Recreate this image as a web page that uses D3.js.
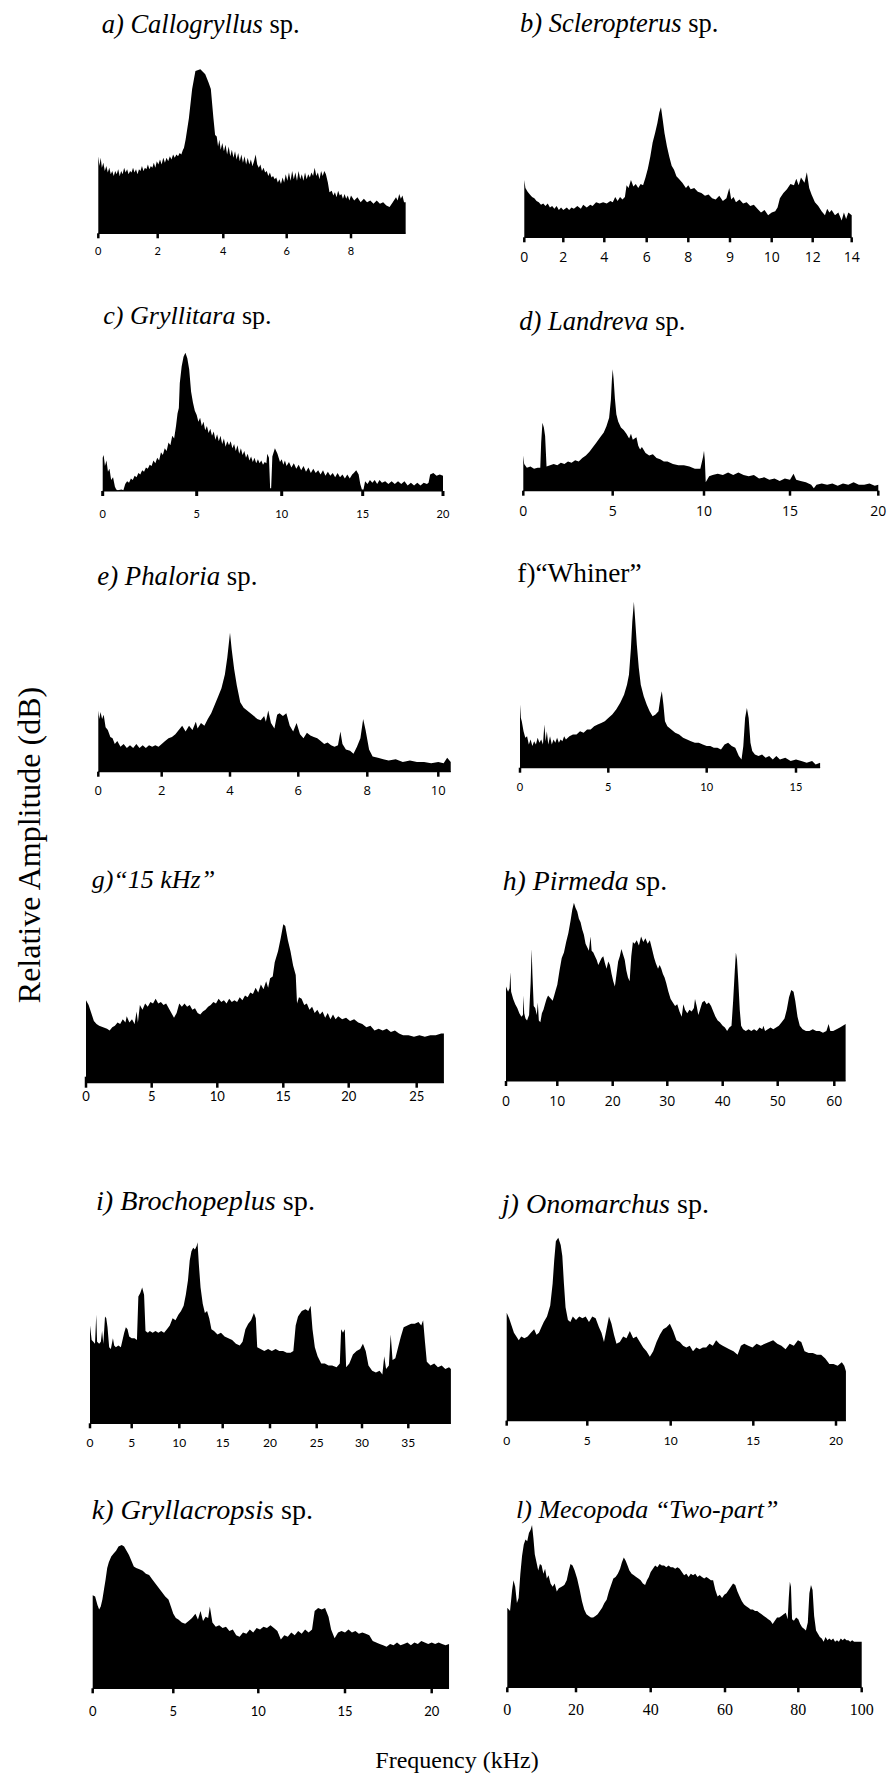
<!DOCTYPE html>
<html>
<head>
<meta charset="utf-8">
<script src="https://cdn.jsdelivr.net/npm/d3@7"></script>
<style>
  body { margin: 0; background: #fff; }
  svg { display: block; }
</style>
</head>
<body>
<div id="chart"></div>
<script>
// spectra: [frequency (kHz), relative amplitude 0-100]
var specA = [[0,47],[0.04,41],[0.08,46],[0.12,40],[0.17,43],[0.22,38],[0.27,41],[0.32,37],[0.37,40],[0.42,36],[0.47,38],[0.52,35],[0.57,38],[0.62,36],[0.67,39],[0.72,35],[0.77,38],[0.82,36],[0.87,40],[0.92,37],[0.97,39],[1.02,36],[1.07,38],[1.12,37],[1.17,40],[1.22,37],[1.27,39],[1.32,36],[1.37,39],[1.42,38],[1.47,41],[1.52,38],[1.57,40],[1.62,39],[1.67,42],[1.72,39],[1.77,41],[1.82,40],[1.87,43],[1.92,40],[1.97,44],[2.02,42],[2.07,45],[2.12,42],[2.17,46],[2.22,43],[2.27,46],[2.32,44],[2.37,47],[2.42,45],[2.47,48],[2.52,46],[2.57,48],[2.62,47],[2.67,49],[2.72,48],[2.77,51],[2.8,52],[2.85,57],[2.95,70],[3.05,88],[3.15,99],[3.3,100],[3.45,97],[3.55,92],[3.62,88],[3.7,70],[3.75,60],[3.8,59],[3.84,53],[3.88,57],[3.92,51],[3.97,55],[4.02,50],[4.07,54],[4.12,48],[4.17,53],[4.22,47],[4.27,51],[4.32,46],[4.37,50],[4.42,45],[4.47,49],[4.52,44],[4.57,48],[4.62,43],[4.67,47],[4.72,42],[4.77,46],[4.82,42],[4.87,45],[4.92,41],[4.97,44],[5.02,48],[5.07,42],[5.12,40],[5.17,42],[5.22,38],[5.27,40],[5.32,37],[5.37,38],[5.42,35],[5.47,37],[5.52,34],[5.57,35],[5.62,33],[5.67,34],[5.72,31],[5.77,33],[5.82,30],[5.87,34],[5.92,31],[5.97,36],[6.02,32],[6.07,37],[6.12,32],[6.17,38],[6.22,33],[6.27,37],[6.32,32],[6.37,38],[6.42,33],[6.47,36],[6.52,32],[6.57,37],[6.62,33],[6.67,36],[6.72,34],[6.77,37],[6.82,35],[6.87,40],[6.92,35],[6.97,37],[7.02,33],[7.07,38],[7.12,35],[7.17,38],[7.22,36],[7.28,31],[7.33,25],[7.4,26],[7.45,23],[7.5,25],[7.55,22],[7.6,26],[7.65,23],[7.7,24],[7.75,21],[7.8,24],[7.85,21],[7.9,23],[7.95,20],[8.0,23],[8.1,20],[8.2,22],[8.3,19],[8.4,21],[8.5,19],[8.6,20],[8.7,18],[8.8,20],[8.9,18],[9.0,19],[9.1,17],[9.2,16],[9.3,19],[9.4,22],[9.45,20],[9.5,24],[9.55,21],[9.6,23],[9.65,19],[9.7,19]];

var specB = [[0,44],[0.05,38],[0.15,35],[0.25,33],[0.35,31],[0.45,30],[0.55,28],[0.65,27],[0.75,25],[0.85,26],[0.95,24],[1.05,26],[1.15,23],[1.25,24],[1.35,22],[1.45,24],[1.55,21],[1.65,23],[1.75,21],[1.9,23],[2.0,21],[2.1,23],[2.2,22],[2.35,24],[2.5,22],[2.6,25],[2.75,23],[2.9,25],[3.0,24],[3.15,27],[3.3,26],[3.45,27],[3.6,26],[3.75,28],[3.85,27],[3.95,31],[4.05,28],[4.15,31],[4.25,29],[4.35,31],[4.42,40],[4.5,38],[4.6,44],[4.7,39],[4.8,41],[4.9,38],[5.0,41],[5.1,40],[5.2,46],[5.3,53],[5.4,62],[5.5,73],[5.6,80],[5.7,88],[5.78,96],[5.85,100],[5.92,91],[6.0,80],[6.1,70],[6.2,62],[6.3,55],[6.4,52],[6.5,47],[6.6,45],[6.75,42],[6.9,38],[7.0,40],[7.1,37],[7.25,38],[7.4,35],[7.55,34],[7.7,32],[7.85,33],[8.0,30],[8.15,29],[8.3,32],[8.45,28],[8.6,30],[8.72,38],[8.8,29],[8.9,31],[9.0,27],[9.15,29],[9.3,26],[9.45,27],[9.6,24],[9.75,25],[9.9,22],[10.05,19],[10.2,21],[10.35,17],[10.5,19],[10.65,20],[10.75,23],[10.85,30],[11.0,34],[11.15,37],[11.3,41],[11.45,40],[11.55,45],[11.65,40],[11.75,46],[11.9,42],[12.0,50],[12.1,38],[12.2,33],[12.35,27],[12.5,24],[12.65,20],[12.8,17],[12.9,22],[13.0,19],[13.1,21],[13.25,17],[13.4,19],[13.55,13],[13.65,19],[13.75,14],[13.85,19],[14.0,17]];

var specC = [[0,24],[0.05,26],[0.12,18],[0.2,22],[0.28,14],[0.36,16],[0.45,8],[0.55,10],[0.65,3],[0.72,1],[0.8,0.5],[1.0,1],[1.1,0.5],[1.2,5],[1.3,7],[1.4,6],[1.5,9],[1.6,8],[1.7,11],[1.8,10],[1.9,13],[2.0,12],[2.1,15],[2.2,14],[2.3,17],[2.4,16],[2.5,19],[2.6,18],[2.7,22],[2.8,20],[2.9,24],[3.0,22],[3.1,28],[3.2,26],[3.3,31],[3.4,29],[3.5,35],[3.6,33],[3.7,40],[3.8,38],[3.9,47],[3.98,56],[4.05,60],[4.1,78],[4.2,90],[4.3,97],[4.4,100],[4.5,96],[4.6,88],[4.7,72],[4.8,64],[4.9,58],[5.0,55],[5.1,50],[5.2,53],[5.3,47],[5.4,50],[5.5,44],[5.6,47],[5.7,42],[5.8,45],[5.9,40],[6.0,43],[6.1,37],[6.2,41],[6.3,36],[6.4,40],[6.5,34],[6.6,38],[6.7,32],[6.8,36],[6.9,33],[7.0,36],[7.1,31],[7.2,34],[7.3,29],[7.4,33],[7.5,27],[7.6,31],[7.7,26],[7.8,29],[7.9,24],[8.0,27],[8.1,22],[8.2,25],[8.3,21],[8.4,24],[8.5,20],[8.6,23],[8.7,20],[8.8,22],[8.9,19],[9.0,21],[9.1,20],[9.15,27],[9.25,24],[9.32,2],[9.38,2],[9.45,25],[9.6,31],[9.75,27],[9.9,21],[10.0,23],[10.1,19],[10.2,22],[10.3,18],[10.45,21],[10.6,17],[10.75,20],[10.9,16],[11.05,19],[11.2,15],[11.35,18],[11.5,14],[11.65,17],[11.8,13],[11.95,16],[12.1,13],[12.25,15],[12.4,12],[12.55,15],[12.7,11],[12.85,14],[13.0,11],[13.15,13],[13.3,10],[13.45,13],[13.6,10],[13.75,12],[13.9,9],[14.05,12],[14.2,9],[14.35,12],[14.45,13],[14.6,15],[14.75,12],[14.85,5],[14.95,1],[15.05,1],[15.15,7],[15.3,5],[15.45,8],[15.6,6],[15.75,8],[15.9,5],[16.05,8],[16.2,6],[16.4,7],[16.6,5],[16.8,7],[17.0,5],[17.2,7],[17.4,5],[17.6,7],[17.8,4],[18.0,6],[18.2,4],[18.4,6],[18.6,4],[18.8,6],[19.0,5],[19.1,6],[19.2,12],[19.4,13],[19.6,11],[19.8,12],[20.0,11]];

var specD = [[0,29],[0.05,22],[0.2,19],[0.4,20],[0.6,18],[0.8,19],[0.95,19],[1.0,40],[1.07,56],[1.15,52],[1.22,45],[1.3,20],[1.5,21],[1.7,22],[1.9,21],[2.1,23],[2.3,22],[2.5,24],[2.7,23],[2.9,25],[3.1,24],[3.3,27],[3.5,29],[3.7,32],[3.9,36],[4.1,40],[4.3,44],[4.5,48],[4.65,53],[4.8,60],[4.9,75],[4.95,90],[5.0,100],[5.05,92],[5.12,76],[5.2,63],[5.3,57],[5.45,52],[5.6,50],[5.75,47],[5.9,43],[6.0,47],[6.1,42],[6.3,44],[6.4,37],[6.5,34],[6.6,36],[6.8,31],[7.0,29],[7.2,30],[7.4,27],[7.6,26],[7.8,24],[8.0,24],[8.3,22],[8.6,21],[8.9,21],[9.2,20],[9.5,18],[9.8,18],[9.95,28],[10.0,33],[10.05,25],[10.1,7],[10.3,12],[10.5,13],[10.8,14],[11.1,13],[11.4,15],[11.7,13],[12.0,15],[12.3,13],[12.6,12],[12.9,13],[13.2,10],[13.5,11],[13.8,9],[14.1,10],[14.4,8],[14.7,10],[15.0,9],[15.2,14],[15.35,9],[15.6,8],[15.9,7],[16.2,5],[16.35,2],[16.5,5],[16.8,6],[17.1,5],[17.4,6],[17.7,4],[18.0,6],[18.3,5],[18.6,7],[18.9,5],[19.2,5],[19.5,6],[19.8,4],[20.0,5]];

var specE = [[0,44],[0.03,38],[0.07,43],[0.12,38],[0.17,41],[0.23,32],[0.3,30],[0.38,25],[0.45,24],[0.52,20],[0.6,22],[0.7,18],[0.8,20],[0.9,17],[1.0,19],[1.1,17],[1.2,20],[1.3,17],[1.4,19],[1.5,17],[1.6,19],[1.7,18],[1.8,19],[1.9,18],[2.0,20],[2.1,22],[2.2,24],[2.3,25],[2.4,27],[2.5,30],[2.6,33],[2.7,29],[2.8,33],[2.9,30],[3.0,36],[3.05,31],[3.15,35],[3.25,33],[3.35,38],[3.45,42],[3.55,48],[3.65,54],[3.75,60],[3.85,70],[3.92,82],[4.0,100],[4.05,88],[4.12,74],[4.2,62],[4.3,50],[4.4,46],[4.5,44],[4.6,42],[4.7,40],[4.8,38],[4.9,37],[5.0,40],[5.05,36],[5.12,44],[5.2,35],[5.3,31],[5.38,41],[5.45,42],[5.55,40],[5.65,42],[5.75,33],[5.85,29],[5.95,35],[6.05,27],[6.15,24],[6.25,28],[6.35,26],[6.45,25],[6.55,24],[6.65,22],[6.75,20],[6.85,21],[6.95,19],[7.05,18],[7.15,19],[7.22,29],[7.28,20],[7.38,16],[7.5,15],[7.6,13],[7.7,18],[7.8,24],[7.88,38],[7.95,30],[8.05,16],[8.15,11],[8.3,10],[8.45,9],[8.6,8],[8.8,9],[9.0,7],[9.2,8],[9.4,7],[9.6,7],[9.8,6],[10.0,7],[10.15,6],[10.25,10],[10.35,7]];

var specF = [[0,38],[0.05,30],[0.1,28],[0.2,22],[0.3,18],[0.4,19],[0.5,14],[0.6,17],[0.7,13],[0.8,16],[0.9,14],[1.0,18],[1.1,15],[1.2,17],[1.3,14],[1.38,26],[1.45,16],[1.52,22],[1.6,14],[1.7,19],[1.8,14],[1.9,17],[2.0,15],[2.1,18],[2.2,15],[2.3,17],[2.4,16],[2.5,19],[2.6,17],[2.8,19],[3.0,20],[3.2,20],[3.4,22],[3.6,21],[3.8,23],[4.0,23],[4.2,25],[4.4,26],[4.6,27],[4.8,28],[5.0,30],[5.2,32],[5.4,35],[5.6,39],[5.8,44],[5.95,50],[6.05,56],[6.15,72],[6.22,88],[6.3,100],[6.36,90],[6.45,74],[6.55,60],[6.65,50],[6.8,43],[6.95,38],[7.1,34],[7.25,31],[7.4,32],[7.55,34],[7.65,42],[7.72,46],[7.8,38],[7.88,28],[8.0,25],[8.2,23],[8.4,21],[8.6,20],[8.8,18],[9.0,17],[9.2,16],[9.4,15],[9.6,15],[9.8,14],[10.0,13],[10.2,13],[10.4,12],[10.6,12],[10.8,11],[11.0,14],[11.2,15],[11.4,13],[11.6,12],[11.8,7],[11.95,5],[12.05,13],[12.15,30],[12.25,36],[12.35,30],[12.45,15],[12.55,10],[12.7,8],[12.9,7],[13.1,8],[13.3,6],[13.5,7],[13.7,5],[13.9,7],[14.1,5],[14.4,6],[14.7,4],[15.0,5],[15.3,4],[15.6,3],[15.9,4],[16.1,2],[16.35,3]];

var specG = [[0,52],[0.2,49],[0.4,44],[0.6,39],[0.8,37],[1.0,36],[1.3,35],[1.6,34],[1.8,33],[2.0,35],[2.2,36],[2.4,38],[2.6,37],[2.8,40],[3.0,38],[3.1,42],[3.3,38],[3.5,40],[3.7,37],[3.85,45],[3.95,38],[4.1,49],[4.3,46],[4.5,50],[4.7,48],[4.9,51],[5.1,50],[5.3,53],[5.5,50],[5.7,51],[5.9,49],[6.1,50],[6.3,47],[6.5,44],[6.7,41],[6.9,44],[7.1,50],[7.3,48],[7.5,50],[7.7,48],[7.9,49],[8.1,46],[8.3,47],[8.5,44],[8.7,43],[8.9,45],[9.1,46],[9.3,48],[9.5,49],[9.7,51],[9.9,50],[10.1,53],[10.3,51],[10.5,52],[10.7,50],[10.9,53],[11.1,51],[11.3,52],[11.5,51],[11.7,54],[11.9,52],[12.1,55],[12.3,54],[12.5,57],[12.7,56],[12.9,60],[13.1,57],[13.3,62],[13.5,59],[13.7,64],[13.85,60],[14.0,66],[14.2,67],[14.35,76],[14.6,83],[14.8,91],[15.0,100],[15.15,99],[15.35,90],[15.55,83],[15.75,74],[15.95,68],[16.05,50],[16.2,54],[16.4,53],[16.6,49],[16.8,50],[17.0,46],[17.2,48],[17.4,44],[17.6,46],[17.8,43],[18.0,45],[18.2,41],[18.4,44],[18.6,40],[18.8,43],[19.0,40],[19.2,42],[19.5,40],[19.8,41],[20.1,39],[20.4,40],[20.7,38],[21.0,37],[21.3,35],[21.6,36],[21.9,33],[22.2,34],[22.5,33],[22.8,34],[23.1,32],[23.4,33],[23.7,31],[24.0,30],[24.4,30],[24.8,29],[25.2,30],[25.6,29],[26.0,30],[26.4,30],[26.8,31],[27.0,31]];

var specH = [[0,53],[0.4,50],[0.7,52],[0.85,61],[1.0,50],[1.4,46],[1.8,43],[2.2,41],[2.6,38],[3.0,36],[3.3,37],[3.4,48],[3.55,38],[3.8,35],[4.1,34],[4.5,37],[4.8,55],[5.0,74],[5.15,60],[5.4,42],[5.7,41],[6.0,37],[6.2,44],[6.4,34],[6.7,33],[7.0,38],[7.3,40],[7.6,43],[7.9,46],[8.2,48],[8.5,47],[8.8,46],[9.1,45],[9.4,48],[9.7,51],[10.0,54],[10.4,62],[10.8,69],[11.2,72],[11.6,78],[12.0,83],[12.4,90],[12.7,96],[13.0,100],[13.3,97],[13.6,95],[13.9,91],[14.2,89],[14.5,85],[14.8,82],[15.1,77],[15.4,75],[15.7,73],[16.0,81],[16.2,73],[16.5,72],[16.8,70],[17.1,68],[17.4,65],[17.7,67],[18.0,69],[18.3,70],[18.6,66],[18.9,63],[19.2,67],[19.5,65],[19.8,60],[20.1,56],[20.4,53],[20.7,60],[21.0,67],[21.3,70],[21.6,74],[21.9,71],[22.2,68],[22.5,62],[22.8,58],[23.1,56],[23.4,70],[23.7,78],[24.0,77],[24.4,79],[24.8,76],[25.2,81],[25.6,78],[26.0,80],[26.4,77],[26.8,79],[27.2,74],[27.6,69],[27.9,66],[28.3,63],[28.6,65],[28.9,63],[29.2,60],[29.5,58],[29.8,55],[30.2,50],[30.6,46],[31.0,44],[31.4,42],[31.8,43],[32.2,39],[32.6,36],[32.9,43],[33.2,40],[33.6,38],[34.0,40],[34.4,39],[34.8,41],[35.0,46],[35.3,42],[35.6,37],[35.9,40],[36.3,44],[36.7,45],[37.1,43],[37.5,44],[37.9,42],[38.3,39],[38.7,36],[39.1,34],[39.5,33],[40.0,31],[40.4,30],[40.8,28],[41.2,30],[41.6,31],[41.9,45],[42.2,62],[42.4,72],[42.6,68],[42.85,55],[43.1,40],[43.35,31],[43.7,29],[44.2,28],[44.7,29],[45.2,28],[45.7,29],[46.2,28],[46.7,30],[47.2,29],[47.4,31],[47.7,28],[48.2,29],[48.7,30],[49.2,29],[49.7,30],[50.2,31],[50.7,33],[51.2,35],[51.6,40],[52.0,47],[52.4,51],[52.8,50],[53.1,45],[53.5,36],[53.9,31],[54.4,29],[55.0,28],[55.6,28],[56.2,29],[56.8,28],[57.4,28],[58.0,27],[58.6,28],[59.0,32],[59.3,28],[59.8,28],[60.4,29],[61.0,30],[61.5,31],[62.0,32]];

var specI = [[0,54],[0.2,46],[0.4,45],[0.6,44],[0.75,60],[0.85,45],[1.1,44],[1.3,45],[1.45,51],[1.6,44],[1.8,59],[1.95,58],[2.1,53],[2.3,42],[2.5,41],[2.75,47],[2.9,43],[3.1,42],[3.4,43],[3.7,42],[3.9,46],[4.1,50],[4.3,53],[4.5,52],[4.7,48],[5.0,47],[5.3,47],[5.55,46],[5.7,70],[5.9,72],[6.1,75],[6.3,71],[6.45,51],[6.7,50],[6.9,51],[7.2,50],[7.5,51],[7.8,50],[8.1,51],[8.4,50],[8.7,52],[9.0,54],[9.3,58],[9.6,57],[9.9,60],[10.2,62],[10.5,65],[10.75,71],[11.0,79],[11.2,90],[11.4,95],[11.6,97],[11.8,96],[12.0,98],[12.1,100],[12.25,88],[12.45,75],[12.7,66],[12.95,61],[13.2,62],[13.45,58],[13.7,52],[14.0,51],[14.4,49],[14.8,50],[15.2,48],[15.6,47],[16.0,46],[16.4,44],[16.8,43],[17.1,45],[17.4,52],[17.7,55],[18.0,57],[18.3,61],[18.5,58],[18.65,42],[19.0,41],[19.4,40],[19.8,41],[20.2,40],[20.6,41],[21.0,40],[21.4,40],[21.8,39],[22.2,39],[22.5,40],[22.75,54],[23.0,59],[23.4,62],[23.8,63],[24.1,62],[24.35,65],[24.55,52],[24.8,42],[25.1,37],[25.5,33],[25.9,33],[26.3,32],[26.7,32],[27.2,31],[27.55,33],[27.7,52],[27.9,50],[28.1,52],[28.25,31],[28.6,33],[29.0,38],[29.4,40],[29.8,41],[30.1,44],[30.4,40],[30.7,32],[31.1,29],[31.5,28],[31.9,29],[32.2,27],[32.4,37],[32.6,30],[32.9,32],[33.1,49],[33.3,35],[33.6,36],[33.9,42],[34.2,48],[34.5,53],[34.9,54],[35.3,55],[35.7,55],[36.1,56],[36.4,54],[36.6,57],[36.8,45],[37.0,34],[37.4,32],[37.8,33],[38.2,31],[38.6,32],[39.0,30],[39.4,31],[39.6,30]];

var specJ = [[0,59],[0.15,56],[0.3,52],[0.45,48],[0.6,46],[0.75,44],[0.9,46],[1.1,45],[1.3,46],[1.5,48],[1.7,50],[1.85,47],[2.0,48],[2.15,51],[2.3,54],[2.5,57],[2.7,63],[2.85,75],[2.95,88],[3.05,98],[3.2,100],[3.35,96],[3.45,90],[3.55,75],[3.65,62],[3.8,55],[3.95,54],[4.1,57],[4.3,55],[4.5,57],[4.7,56],[4.9,57],[5.1,54],[5.3,57],[5.5,56],[5.7,51],[5.85,48],[6.0,43],[6.15,50],[6.3,57],[6.45,53],[6.6,47],[6.75,42],[6.95,43],[7.15,46],[7.35,45],[7.55,49],[7.75,45],[7.95,46],[8.15,43],[8.35,40],[8.55,38],[8.75,35],[8.95,38],[9.15,43],[9.35,47],[9.55,50],[9.75,51],[9.95,53],[10.15,49],[10.35,44],[10.55,43],[10.75,41],[10.95,40],[11.15,41],[11.35,38],[11.55,40],[11.75,39],[11.95,40],[12.15,40],[12.35,42],[12.55,41],[12.75,44],[12.95,42],[13.15,41],[13.35,40],[13.55,39],[13.8,38],[14.05,36],[14.25,41],[14.45,42],[14.7,41],[14.95,40],[15.2,42],[15.45,41],[15.7,42],[15.95,43],[16.2,44],[16.45,42],[16.7,41],[16.95,39],[17.2,42],[17.45,41],[17.7,44],[17.9,43],[18.1,38],[18.35,37],[18.6,37],[18.85,36],[19.1,36],[19.35,34],[19.6,31],[19.85,31],[20.1,30],[20.35,32],[20.5,30],[20.6,27]];

var specK = [[0,65],[0.15,64],[0.3,58],[0.4,55],[0.5,57],[0.6,62],[0.7,69],[0.8,76],[0.9,84],[1.0,88],[1.15,92],[1.3,94],[1.45,96],[1.6,99],[1.8,100],[1.95,99],[2.1,96],[2.25,93],[2.4,89],[2.55,85],[2.7,84],[2.9,83],[3.1,82],[3.3,80],[3.5,79],[3.7,76],[3.9,73],[4.1,70],[4.3,67],[4.5,64],[4.7,62],[4.85,57],[5.0,52],[5.15,49],[5.3,48],[5.5,46],[5.7,45],[5.9,47],[6.1,49],[6.3,52],[6.45,48],[6.6,54],[6.75,47],[6.9,50],[7.05,49],[7.15,57],[7.3,46],[7.5,43],[7.7,44],[7.9,42],[8.1,43],[8.3,40],[8.5,41],[8.7,37],[8.9,36],[9.1,39],[9.3,38],[9.5,41],[9.7,39],[9.9,42],[10.1,41],[10.3,43],[10.5,42],[10.7,44],[10.9,42],[11.1,40],[11.3,34],[11.5,37],[11.7,36],[11.9,39],[12.1,37],[12.3,40],[12.5,38],[12.7,41],[12.9,39],[13.1,41],[13.25,54],[13.45,56],[13.65,55],[13.85,56],[14.05,50],[14.2,41],[14.4,35],[14.6,39],[14.8,40],[15.0,39],[15.2,41],[15.4,39],[15.6,40],[15.8,38],[16.0,39],[16.2,38],[16.4,37],[16.6,33],[16.8,32],[17.0,31],[17.2,30],[17.4,29],[17.6,31],[17.8,30],[18.0,32],[18.2,30],[18.4,31],[18.6,32],[18.8,30],[19.0,32],[19.2,31],[19.4,33],[19.6,32],[19.8,31],[20.0,32],[20.2,31],[20.4,32],[20.6,31],[20.8,30],[21.0,31]];

var specL = [[0,49],[0.8,47],[1.4,60],[1.8,66],[2.3,62],[2.8,52],[3.3,55],[3.8,70],[4.3,81],[4.8,88],[5.3,91],[5.8,90],[6.3,95],[6.8,97],[7.2,100],[7.6,92],[8.0,82],[8.5,77],[9.0,72],[9.5,76],[10.0,75],[10.5,70],[11.0,73],[11.5,67],[12.0,69],[12.6,64],[13.2,62],[13.8,64],[14.4,59],[15.0,61],[15.8,62],[16.6,63],[17.3,66],[17.9,72],[18.4,76],[19.0,75],[19.6,72],[20.3,67],[21.0,60],[21.6,53],[22.2,48],[22.8,45],[23.4,44],[24.0,43],[24.6,43],[25.2,44],[25.8,45],[26.4,47],[27.0,49],[27.6,52],[28.2,54],[28.8,59],[29.4,63],[30.0,67],[30.6,68],[31.2,70],[31.8,73],[32.3,77],[32.8,80],[33.3,78],[33.8,75],[34.3,72],[34.9,70],[35.5,69],[36.1,68],[36.7,67],[37.3,66],[37.9,64],[38.5,63],[39.0,66],[39.5,68],[40.0,71],[40.6,73],[41.2,75],[41.8,74],[42.4,76],[43.0,75],[43.6,75],[44.2,74],[44.8,75],[45.4,74],[46.0,74],[46.6,73],[47.2,74],[47.8,73],[48.4,71],[49.0,69],[49.6,70],[50.2,68],[50.8,70],[51.4,69],[52.0,70],[52.6,68],[53.2,69],[53.8,68],[54.4,67],[55.0,68],[55.6,67],[56.2,66],[56.8,66],[57.4,60],[58.0,56],[58.6,57],[59.2,55],[59.8,57],[60.4,58],[61.0,60],[61.6,62],[62.2,64],[62.8,63],[63.4,59],[64.0,56],[64.6,53],[65.2,51],[65.8,50],[66.4,49],[67.0,48],[67.6,48],[68.2,47],[68.8,47],[69.4,46],[70.0,45],[70.6,44],[71.2,43],[71.8,42],[72.4,41],[73.0,39],[73.6,41],[74.2,43],[74.8,43],[75.4,44],[76.0,45],[76.6,46],[77.1,42],[77.4,55],[77.7,65],[78.0,62],[78.3,42],[78.8,41],[79.4,43],[80.0,42],[80.6,39],[81.2,37],[81.8,36],[82.4,35],[83.0,40],[83.5,58],[84.0,63],[84.5,60],[85.0,44],[85.6,35],[86.2,33],[86.8,31],[87.4,30],[88.0,28],[88.6,31],[89.2,29],[89.8,30],[90.4,29],[91.0,30],[91.6,28],[92.2,29],[92.8,28],[93.4,30],[94.0,29],[94.6,30],[95.2,29],[95.8,29],[96.4,28],[97.0,29],[97.6,28],[98.2,28],[98.8,28],[99.4,28],[100,28]];

// tick values (kHz) and the labels printed under them
var ticksA = [0, 2, 4, 6, 8];
var ticksB = [0, 1.75, 3.5, 5.25, 7, 8.75, 10.5, 12.25, 14];
var labelsB = ["0", "2", "4", "6", "8", "9", "10", "12", "14"];
var ticksC = [0, 5, 10, 15, 20];
var ticksD = [0, 5, 10, 15, 20];
var ticksE = [0, 2, 4, 6, 8, 10];
var ticksF = [0, 5, 10, 15];
var ticksG = [0, 5, 10, 15, 20, 25];
var ticksH = [0, 10, 20, 30, 40, 50, 60];
var ticksI = [0, 5, 10, 15, 20, 25, 30, 35];
var ticksJ = [0, 5, 10, 15, 20];
var ticksK = [0, 5, 10, 15, 20];
var ticksL = [0, 20, 40, 60, 80, 100];

// panel titles: [text, italic?]
var titleA = [["a) ", true], ["Callogryllus", true], [" sp.", false]];
var titleB = [["b) ", true], ["Scleropterus", true], [" sp.", false]];
var titleC = [["c) ", true], ["Gryllitara", true], [" sp.", false]];
var titleD = [["d) ", true], ["Landreva", true], [" sp.", false]];
var titleE = [["e) ", true], ["Phaloria", true], [" sp.", false]];
var titleF = [["f)\u201CWhiner\u201D", false]];
var titleG = [["g)\u201C15 kHz\u201D", true]];
var titleH = [["h) ", true], ["Pirmeda", true], [" sp.", false]];
var titleI = [["i) ", true], ["Brochopeplus", true], [" sp.", false]];
var titleJ = [["j) ", true], ["Onomarchus", true], [" sp.", false]];
var titleK = [["k) ", true], ["Gryllacropsis", true], [" sp.", false]];
var titleL = [["l) ", true], ["Mecopoda", true], [" \u201CTwo-part\u201D", true]];

var svgWidth = 896;
var svgHeight = 1776;

var svg = d3.select("#chart")
    .append("svg")
    .attr("width", svgWidth)
    .attr("height", svgHeight);

var SANS = "Lato, 'Open Sans', sans-serif";
var OPEN = "'Open Sans', sans-serif";
var SERIF = "'Liberation Serif', 'Times New Roman', serif";

// layout of each panel (pixel positions of the ticks, baseline, peak height)
var panels = [
    {data: specA, ticks: ticksA, px: [98.3, 157.7, 223.3, 286.7, 351], xmax: 9.7, base: 233.3, top: 69.3, title: titleA, tx: 101.7, ty: 32.7, tfs: 26.5, font: SANS, fs: 11, ly: 17},
    {data: specB, ticks: ticksB, labels: labelsB, px: [524.3, 563.3, 604.3, 646.7, 688.3, 730, 771.7, 812.7, 851.7], xmax: 14, base: 237.3, top: 107.3, title: titleB, tx: 520, ty: 31.7, tfs: 26.5, font: OPEN, fs: 14, ly: 19.5},
    {data: specC, ticks: ticksC, px: [102.7, 196.7, 281.7, 362.7, 443], xmax: 20, base: 491, top: 352.7, title: titleC, tx: 103.3, ty: 324.3, tfs: 26, font: SANS, fs: 11, ly: 22, tw: 3},
    {data: specD, ticks: ticksD, px: [523.3, 612.7, 704, 790, 878.3], xmax: 20, base: 490.7, top: 369.3, title: titleD, tx: 519.3, ty: 330, tfs: 26.5, font: OPEN, fs: 14, ly: 19.5},
    {data: specE, ticks: ticksE, px: [98.3, 161.7, 230, 298.3, 367.3, 438.3], xmax: 10.35, base: 771.7, top: 632.7, title: titleE, tx: 97.3, ty: 585, tfs: 26.8, font: OPEN, fs: 13, ly: 18.5},
    {data: specF, ticks: ticksF, px: [520, 608.3, 706.7, 796], xmax: 16.35, base: 767.7, top: 601.7, title: titleF, tx: 517.3, ty: 582.3, tfs: 27.3, font: SANS, fs: 11, ly: 19},
    {data: specG, ticks: ticksG, px: [86, 151.7, 217.3, 283.3, 348.7, 416.7], xmax: 27, base: 1082.7, top: 924.3, title: titleG, tx: 91.7, ty: 888.3, tfs: 26, font: SANS, fs: 13, ly: 13, up: 6},
    {data: specH, ticks: ticksH, px: [506, 557.3, 612.7, 667.3, 722.7, 777.7, 834.3], xmax: 62, base: 1081, top: 902.7, title: titleH, tx: 502.7, ty: 890, tfs: 27.8, font: OPEN, fs: 14, ly: 19.5},
    {data: specI, ticks: ticksI, px: [90, 131.7, 179.3, 222.7, 270, 316.7, 362, 408.3], xmax: 39.6, base: 1423.3, top: 1242.3, title: titleI, tx: 96, ty: 1210, tfs: 28.2, font: SANS, fs: 12, ly: 19.5},
    {data: specJ, ticks: ticksJ, px: [506.7, 587.3, 670.7, 753.3, 836], xmax: 20.6, base: 1420.7, top: 1237.7, title: titleJ, tx: 501.7, ty: 1213.3, tfs: 28.1, font: SANS, fs: 12, ly: 20},
    {data: specK, ticks: ticksK, px: [92.7, 173.3, 258.3, 345, 431.7], xmax: 21, base: 1688.3, top: 1545, title: titleK, tx: 91.7, ty: 1519.3, tfs: 28.1, font: SANS, fs: 13, ly: 23},
    {data: specL, ticks: ticksL, px: [507.3, 576, 650.7, 725, 798.3, 861.7], xmax: 100, base: 1687.3, top: 1525, title: titleL, tx: 516, ty: 1518.3, tfs: 26, font: SERIF, fs: 16, ly: 22}
];

panels.forEach(function(p) {
    var x = d3.scaleLinear().domain(p.ticks).range(p.px);
    var y = d3.scaleLinear().domain([0, 100]).range([p.base, p.top]);
    var g = svg.append("g");

    var area = d3.area()
        .x(d => x(d[0]))
        .y0(p.base)
        .y1(d => y(d[1]));

    g.append("path")
        .datum(p.data)
        .attr("d", area)
        .attr("fill", "#000");

    // baseline
    g.append("line")
        .attr("x1", x(0)).attr("x2", x(p.xmax))
        .attr("y1", p.base).attr("y2", p.base)
        .attr("stroke", "#000")
        .attr("stroke-width", 1.2);

    // ticks
    g.selectAll(".tick")
        .data(p.ticks)
        .enter()
        .append("line")
        .attr("x1", d => x(d)).attr("x2", d => x(d))
        .attr("y1", p.base - (p.up || 0)).attr("y2", p.base + 5)
        .attr("stroke", "#000")
        .attr("stroke-width", p.tw || 2.5);

    g.selectAll(".tlabel")
        .data(p.ticks)
        .enter()
        .append("text")
        .attr("x", d => x(d))
        .attr("y", p.base + p.ly)
        .attr("text-anchor", "middle")
        .attr("dominant-baseline", "central")
        .attr("font-family", p.font)
        .attr("font-size", p.fs)
        .attr("fill", "#000")
        .text((d, i) => p.labels ? p.labels[i] : d);

    // title
    var t = g.append("text")
        .attr("x", p.tx)
        .attr("y", p.ty)
        .attr("font-family", SERIF)
        .attr("font-size", p.tfs)
        .attr("fill", "#000");
    p.title.forEach(function(s) {
        t.append("tspan")
            .attr("font-style", s[1] ? "italic" : "normal")
            .text(s[0]);
    });
});

// axis titles
svg.append("text")
    .attr("transform", "translate(40, 845) rotate(-90)")
    .attr("text-anchor", "middle")
    .attr("font-family", SERIF)
    .attr("font-size", 32)
    .attr("fill", "#000")
    .text("Relative Amplitude (dB)");

svg.append("text")
    .attr("x", 457)
    .attr("y", 1768)
    .attr("text-anchor", "middle")
    .attr("font-family", SERIF)
    .attr("font-size", 24)
    .attr("fill", "#000")
    .text("Frequency (kHz)");
</script>
</body>
</html>
